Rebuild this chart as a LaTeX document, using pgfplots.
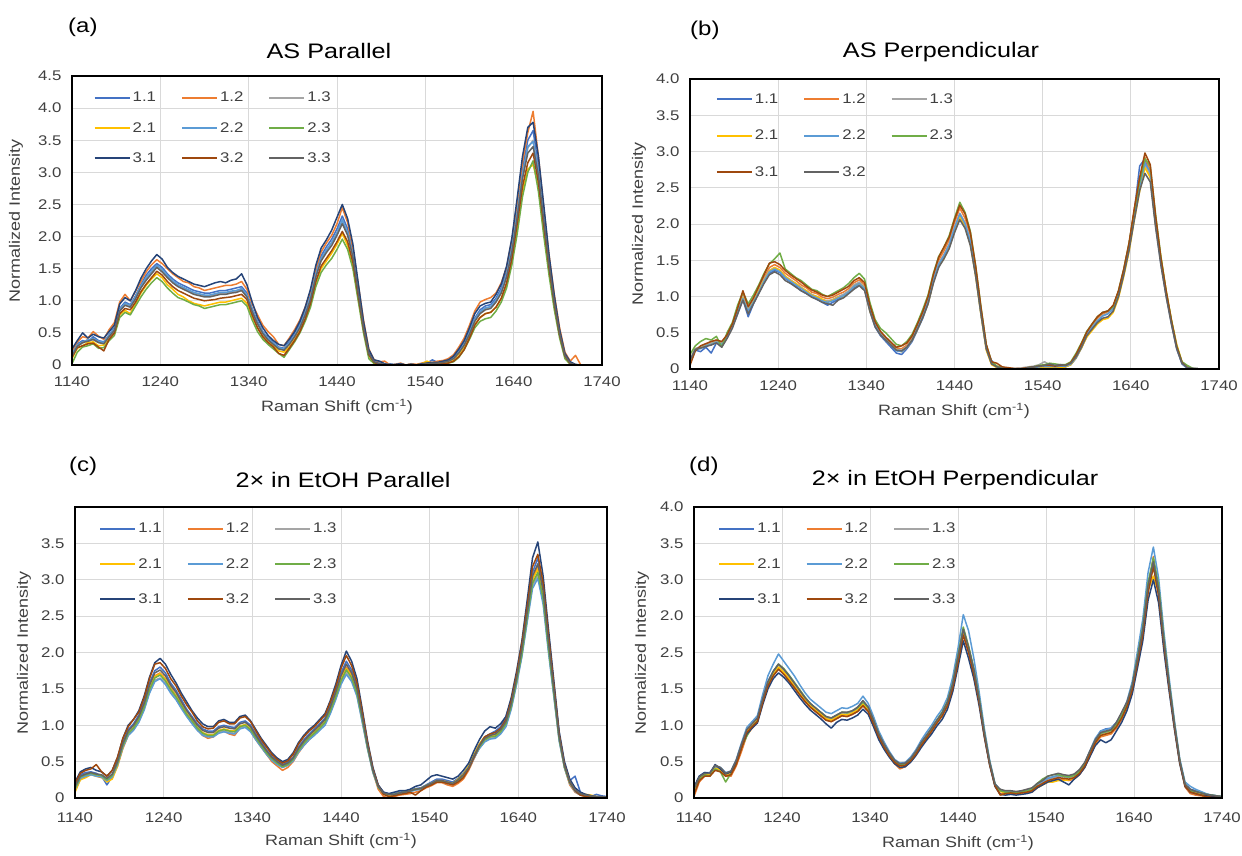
\documentclass[border=0pt]{standalone}
\usepackage{fontspec}
\setmainfont{Liberation Sans}[FakeStretch=1.2]
\usepackage{pgfplots}
\usepackage{pgfplotstable}
\pgfplotsset{compat=1.18}

\definecolor{c11}{HTML}{4472C4}
\definecolor{c12}{HTML}{ED7D31}
\definecolor{c13}{HTML}{A5A5A5}
\definecolor{c21}{HTML}{FFC000}
\definecolor{c22}{HTML}{5B9BD5}
\definecolor{c23}{HTML}{70AD47}
\definecolor{c31}{HTML}{264478}
\definecolor{c32}{HTML}{9E480E}
\definecolor{c33}{HTML}{636363}
\definecolor{gridc}{HTML}{D9D9D9}
\definecolor{labc}{HTML}{404040}

\newcommand{\tl}[1]{\textnormal{#1}}

% AS Parallel
\pgfplotstableread{
x a b c d e f g h i
1140 0.18 0.22 0.15 0.10 0.16 0.02 0.25 0.12 0.14
1146 0.33 0.36 0.30 0.26 0.31 0.20 0.38 0.27 0.29
1152 0.38 0.44 0.34 0.30 0.36 0.28 0.50 0.30 0.35
1158 0.36 0.42 0.40 0.35 0.39 0.30 0.42 0.33 0.37
1164 0.44 0.52 0.39 0.36 0.41 0.33 0.48 0.34 0.40
1170 0.38 0.45 0.35 0.30 0.37 0.26 0.44 0.28 0.35
1176 0.36 0.40 0.34 0.31 0.35 0.27 0.42 0.22 0.33
1182 0.47 0.55 0.45 0.40 0.46 0.38 0.52 0.40 0.44
1188 0.58 0.66 0.55 0.50 0.56 0.46 0.62 0.50 0.54
1194 0.88 0.98 0.86 0.78 0.86 0.74 0.95 0.80 0.84
1200 0.98 1.10 0.95 0.85 0.96 0.82 1.05 0.88 0.93
1206 0.94 1.00 0.92 0.80 0.93 0.78 1.00 0.86 0.90
1212 1.08 1.15 1.05 0.96 1.06 0.92 1.16 0.98 1.03
1218 1.25 1.30 1.22 1.12 1.23 1.06 1.35 1.14 1.20
1224 1.40 1.45 1.35 1.24 1.36 1.18 1.50 1.26 1.32
1230 1.50 1.56 1.44 1.34 1.46 1.28 1.62 1.36 1.42
1236 1.58 1.64 1.53 1.42 1.55 1.36 1.72 1.46 1.52
1242 1.52 1.58 1.47 1.36 1.49 1.30 1.65 1.40 1.45
1248 1.42 1.50 1.38 1.25 1.39 1.20 1.52 1.30 1.36
1254 1.34 1.42 1.30 1.18 1.31 1.12 1.44 1.22 1.28
1260 1.28 1.36 1.24 1.10 1.25 1.05 1.38 1.16 1.22
1266 1.24 1.30 1.20 1.06 1.21 1.02 1.34 1.12 1.18
1272 1.20 1.28 1.16 1.00 1.17 0.98 1.30 1.08 1.14
1278 1.16 1.22 1.12 0.96 1.13 0.94 1.26 1.04 1.10
1284 1.14 1.20 1.10 0.94 1.11 0.92 1.24 1.02 1.08
1290 1.12 1.16 1.08 0.92 1.09 0.88 1.22 1.00 1.06
1296 1.12 1.18 1.07 0.94 1.09 0.90 1.25 1.01 1.06
1302 1.14 1.20 1.10 0.96 1.11 0.92 1.28 1.02 1.08
1308 1.16 1.22 1.12 0.98 1.13 0.94 1.30 1.04 1.10
1314 1.16 1.24 1.12 0.98 1.13 0.94 1.28 1.05 1.10
1320 1.18 1.24 1.14 1.00 1.15 0.96 1.32 1.06 1.12
1326 1.20 1.26 1.15 1.02 1.16 0.98 1.34 1.08 1.13
1332 1.22 1.30 1.18 1.04 1.19 1.00 1.42 1.10 1.16
1338 1.12 1.18 1.08 0.96 1.09 0.92 1.25 1.02 1.06
1344 0.88 0.95 0.85 0.75 0.86 0.70 0.98 0.78 0.83
1350 0.68 0.78 0.65 0.58 0.66 0.52 0.74 0.58 0.64
1356 0.52 0.62 0.50 0.45 0.51 0.40 0.58 0.44 0.49
1362 0.42 0.52 0.40 0.36 0.41 0.32 0.46 0.35 0.39
1368 0.35 0.44 0.33 0.30 0.34 0.25 0.38 0.28 0.32
1374 0.28 0.32 0.26 0.22 0.27 0.18 0.32 0.18 0.25
1380 0.26 0.30 0.24 0.20 0.25 0.12 0.30 0.15 0.23
1386 0.36 0.42 0.33 0.28 0.34 0.24 0.40 0.26 0.32
1392 0.48 0.55 0.45 0.40 0.46 0.36 0.52 0.38 0.44
1398 0.64 0.70 0.60 0.54 0.61 0.50 0.68 0.52 0.58
1404 0.84 0.90 0.80 0.72 0.81 0.68 0.90 0.72 0.78
1410 1.08 1.15 1.05 0.95 1.06 0.90 1.18 0.96 1.02
1416 1.44 1.50 1.40 1.28 1.41 1.22 1.55 1.30 1.37
1422 1.70 1.76 1.65 1.50 1.66 1.44 1.82 1.54 1.62
1428 1.84 1.90 1.78 1.62 1.79 1.56 1.95 1.66 1.75
1434 1.96 2.02 1.90 1.74 1.91 1.66 2.10 1.78 1.86
1440 2.12 2.20 2.06 1.88 2.06 1.80 2.30 1.92 2.02
1446 2.32 2.45 2.25 2.05 2.26 1.96 2.50 2.08 2.20
1452 2.12 2.22 2.05 1.86 2.06 1.80 2.28 1.92 2.02
1458 1.76 1.82 1.70 1.55 1.71 1.50 1.88 1.60 1.68
1464 1.20 1.26 1.15 1.04 1.16 1.00 1.28 1.08 1.13
1470 0.64 0.70 0.60 0.54 0.61 0.50 0.68 0.56 0.58
1476 0.20 0.25 0.18 0.15 0.19 0.10 0.24 0.16 0.18
1482 0.06 0.08 0.05 0.03 0.05 0.02 0.08 0.04 0.05
1488 0.03 0.05 0.02 0.01 0.02 0.00 0.06 0.01 0.02
1494 0.00 0.06 0.01 0.00 0.01 0.00 0.02 0.00 0.01
1500 0.02 0.00 0.00 0.00 0.01 0.00 0.00 0.00 0.01
1506 0.00 0.01 0.00 0.00 0.00 0.00 0.01 0.00 0.00
1512 0.01 0.03 0.01 0.00 0.01 0.00 0.02 0.00 0.01
1518 0.00 0.00 0.00 0.00 0.00 0.00 0.00 0.00 0.00
1524 0.01 0.02 0.01 0.00 0.01 0.00 0.01 0.00 0.01
1530 0.00 0.01 0.00 0.00 0.00 0.00 0.00 0.00 0.00
1536 0.02 0.03 0.01 0.02 0.01 0.00 0.02 0.00 0.01
1542 0.03 0.05 0.02 0.06 0.02 0.01 0.03 0.01 0.02
1548 0.08 0.04 0.03 0.02 0.03 0.01 0.04 0.02 0.03
1554 0.04 0.06 0.03 0.02 0.03 0.02 0.04 0.01 0.03
1560 0.05 0.07 0.04 0.03 0.04 0.02 0.06 0.02 0.04
1566 0.07 0.10 0.06 0.05 0.06 0.03 0.08 0.03 0.06
1572 0.12 0.16 0.10 0.08 0.10 0.05 0.14 0.06 0.10
1578 0.22 0.28 0.20 0.17 0.20 0.12 0.25 0.13 0.19
1584 0.34 0.42 0.32 0.28 0.33 0.24 0.38 0.24 0.31
1590 0.53 0.62 0.50 0.45 0.51 0.40 0.58 0.42 0.48
1596 0.73 0.84 0.70 0.63 0.71 0.58 0.80 0.62 0.68
1602 0.86 0.98 0.82 0.74 0.83 0.68 0.92 0.74 0.80
1608 0.92 1.02 0.88 0.80 0.89 0.72 0.96 0.80 0.86
1614 0.94 1.05 0.90 0.82 0.91 0.74 0.98 0.82 0.88
1620 1.04 1.12 1.00 0.90 1.01 0.84 1.10 0.90 0.98
1626 1.20 1.28 1.15 1.04 1.16 0.98 1.26 1.04 1.12
1632 1.46 1.52 1.40 1.26 1.41 1.20 1.54 1.28 1.37
1638 1.86 1.95 1.80 1.62 1.81 1.56 1.98 1.66 1.76
1644 2.42 2.52 2.35 2.14 2.36 2.04 2.60 2.20 2.30
1650 3.05 3.15 2.95 2.70 2.96 2.62 3.25 2.78 2.90
1656 3.50 3.62 3.38 3.05 3.40 3.00 3.70 3.15 3.30
1662 3.65 3.95 3.50 3.12 3.48 3.18 3.78 3.30 3.40
1668 3.10 3.25 3.00 2.80 3.02 2.70 3.25 2.85 2.95
1674 2.36 2.45 2.30 2.12 2.31 2.02 2.50 2.18 2.26
1680 1.64 1.72 1.60 1.48 1.61 1.40 1.72 1.52 1.57
1686 1.03 1.10 1.00 0.92 1.01 0.86 1.08 0.95 0.98
1692 0.52 0.58 0.50 0.46 0.51 0.42 0.55 0.47 0.49
1698 0.16 0.20 0.15 0.13 0.15 0.10 0.18 0.14 0.15
1704 0.04 0.06 0.03 0.02 0.03 0.01 0.05 0.02 0.03
1710 0.00 0.15 0.00 0.00 0.00 0.00 0.01 0.00 0.00
1716 0.00 0.00 0.00 0.00 0.00 0.00 0.00 0.00 0.00
}\tabA

% AS Perpendicular
\pgfplotstableread{
x a b c d e f g h
1140 0.10 0.12 0.13 0.11 0.12 0.20 0.05 0.12
1146 0.26 0.28 0.28 0.27 0.27 0.32 0.25 0.27
1152 0.24 0.30 0.31 0.29 0.28 0.38 0.32 0.29
1158 0.30 0.34 0.33 0.32 0.32 0.42 0.35 0.31
1164 0.22 0.36 0.36 0.34 0.34 0.40 0.38 0.33
1170 0.36 0.40 0.38 0.37 0.37 0.45 0.40 0.36
1176 0.33 0.36 0.35 0.33 0.34 0.30 0.38 0.30
1182 0.43 0.46 0.45 0.44 0.44 0.50 0.47 0.42
1188 0.58 0.62 0.60 0.59 0.58 0.64 0.62 0.56
1194 0.76 0.82 0.80 0.78 0.78 0.88 0.84 0.76
1200 0.96 1.04 1.00 0.98 0.97 1.06 1.08 0.95
1206 0.72 0.84 0.82 0.80 0.80 0.90 0.86 0.76
1212 0.90 0.96 0.95 0.93 0.92 1.02 0.98 0.90
1218 1.05 1.12 1.10 1.08 1.06 1.16 1.14 1.04
1224 1.20 1.26 1.24 1.22 1.21 1.32 1.30 1.18
1230 1.32 1.40 1.36 1.35 1.34 1.45 1.46 1.30
1236 1.36 1.44 1.40 1.40 1.38 1.52 1.48 1.34
1242 1.33 1.40 1.36 1.36 1.34 1.60 1.44 1.30
1248 1.25 1.32 1.28 1.28 1.26 1.38 1.36 1.22
1254 1.20 1.27 1.23 1.22 1.21 1.32 1.30 1.18
1260 1.14 1.22 1.18 1.18 1.16 1.26 1.25 1.13
1266 1.08 1.16 1.13 1.12 1.11 1.22 1.20 1.08
1272 1.04 1.12 1.08 1.08 1.06 1.16 1.14 1.04
1278 1.00 1.06 1.03 1.02 1.01 1.10 1.09 0.99
1284 0.96 1.04 1.00 1.00 0.98 1.08 1.06 0.96
1290 0.92 0.99 0.96 0.96 0.94 1.03 1.02 0.92
1296 0.88 0.97 0.94 0.92 0.92 1.00 1.00 0.90
1302 0.92 0.99 0.96 0.95 0.94 1.04 1.02 0.88
1308 0.96 1.03 1.00 0.99 0.98 1.08 1.06 0.95
1314 1.00 1.06 1.03 1.00 1.01 1.12 1.10 0.98
1320 1.05 1.11 1.08 1.06 1.06 1.18 1.14 1.04
1326 1.12 1.19 1.16 1.14 1.14 1.26 1.22 1.10
1332 1.16 1.23 1.20 1.18 1.18 1.32 1.26 1.15
1338 1.10 1.16 1.13 1.12 1.11 1.24 1.19 1.08
1344 0.80 0.86 0.84 0.80 0.82 0.92 0.88 0.80
1350 0.58 0.63 0.61 0.60 0.60 0.68 0.65 0.58
1356 0.46 0.51 0.49 0.48 0.48 0.56 0.52 0.47
1362 0.38 0.43 0.41 0.40 0.40 0.50 0.44 0.40
1368 0.30 0.36 0.34 0.33 0.33 0.42 0.37 0.33
1374 0.22 0.29 0.27 0.26 0.25 0.34 0.30 0.26
1380 0.20 0.28 0.26 0.24 0.24 0.32 0.32 0.25
1386 0.28 0.33 0.31 0.30 0.30 0.38 0.36 0.30
1392 0.38 0.43 0.41 0.40 0.40 0.48 0.46 0.40
1398 0.54 0.59 0.57 0.55 0.56 0.64 0.62 0.55
1404 0.70 0.76 0.74 0.72 0.73 0.82 0.79 0.71
1410 0.90 0.97 0.94 0.90 0.92 1.02 1.00 0.90
1416 1.20 1.28 1.24 1.20 1.22 1.32 1.30 1.18
1422 1.42 1.50 1.46 1.42 1.44 1.55 1.54 1.40
1428 1.55 1.63 1.58 1.52 1.56 1.68 1.68 1.52
1434 1.70 1.78 1.73 1.68 1.71 1.84 1.82 1.66
1440 1.92 2.02 1.96 1.90 1.94 2.08 2.06 1.88
1446 2.12 2.22 2.15 2.10 2.14 2.30 2.26 2.06
1452 1.98 2.08 2.02 1.96 2.00 2.16 2.14 1.94
1458 1.74 1.84 1.78 1.72 1.76 1.90 1.88 1.70
1464 1.30 1.38 1.34 1.28 1.32 1.42 1.42 1.28
1470 0.76 0.82 0.79 0.75 0.78 0.86 0.85 0.76
1476 0.28 0.32 0.30 0.26 0.29 0.34 0.34 0.28
1482 0.12 0.10 0.08 0.06 0.08 0.10 0.10 0.07
1488 0.02 0.04 0.03 0.02 0.03 0.04 0.08 0.03
1494 0.00 0.02 0.01 0.00 0.01 0.02 0.03 0.01
1500 0.00 0.01 0.00 0.00 0.00 0.01 0.02 0.00
1506 0.00 0.00 0.01 0.00 0.00 0.00 0.01 0.00
1512 0.00 0.01 0.00 0.00 0.00 0.00 0.00 0.01
1518 0.00 0.00 0.02 0.00 0.00 0.00 0.01 0.00
1524 0.01 0.01 0.03 0.00 0.01 0.02 0.02 0.02
1530 0.02 0.02 0.04 0.01 0.02 0.03 0.03 0.03
1536 0.02 0.03 0.06 0.02 0.03 0.05 0.04 0.04
1542 0.03 0.04 0.10 0.03 0.04 0.06 0.05 0.05
1548 0.03 0.04 0.06 0.03 0.04 0.08 0.05 0.07
1554 0.02 0.04 0.05 0.02 0.03 0.07 0.04 0.05
1560 0.03 0.05 0.05 0.02 0.04 0.06 0.05 0.06
1566 0.03 0.05 0.06 0.03 0.04 0.06 0.05 0.05
1572 0.06 0.08 0.08 0.06 0.07 0.10 0.09 0.08
1578 0.15 0.18 0.18 0.16 0.17 0.22 0.20 0.17
1584 0.29 0.33 0.32 0.29 0.31 0.36 0.35 0.30
1590 0.45 0.49 0.48 0.44 0.47 0.52 0.51 0.46
1596 0.56 0.60 0.58 0.53 0.57 0.62 0.62 0.55
1602 0.70 0.70 0.67 0.62 0.66 0.72 0.72 0.64
1608 0.78 0.76 0.74 0.68 0.73 0.78 0.78 0.70
1614 0.80 0.79 0.77 0.70 0.76 0.80 0.80 0.72
1620 0.86 0.86 0.84 0.78 0.83 0.86 0.88 0.80
1626 1.06 1.06 1.04 0.98 1.03 1.08 1.08 1.00
1632 1.36 1.36 1.34 1.28 1.33 1.38 1.38 1.30
1638 1.72 1.72 1.69 1.62 1.68 1.74 1.74 1.64
1644 2.18 2.20 2.14 2.06 2.12 2.18 2.22 2.06
1650 2.80 2.62 2.54 2.45 2.52 2.58 2.64 2.46
1656 2.90 2.92 2.82 2.78 2.84 2.90 2.98 2.70
1662 2.66 2.74 2.68 2.64 2.72 2.80 2.82 2.58
1668 2.00 2.08 2.04 2.00 2.06 2.14 2.12 1.96
1674 1.46 1.52 1.49 1.55 1.50 1.56 1.54 1.44
1680 1.02 1.06 1.04 1.08 1.05 1.08 1.08 1.00
1686 0.63 0.66 0.64 0.68 0.65 0.68 0.67 0.62
1692 0.28 0.31 0.30 0.34 0.30 0.32 0.31 0.28
1698 0.07 0.09 0.08 0.10 0.08 0.10 0.09 0.08
1704 0.01 0.02 0.03 0.02 0.01 0.05 0.02 0.02
1710 0.00 0.00 0.01 0.00 0.00 0.01 0.00 0.01
1716 0.00 0.00 0.00 0.00 0.00 0.00 0.00 0.01
}\tabB

% 2x in EtOH Parallel
\pgfplotstableread{
x a b c d e f g h i
1140 0.18 0.10 0.14 0.08 0.12 0.13 0.22 0.20 0.16
1146 0.32 0.26 0.28 0.25 0.27 0.29 0.36 0.34 0.30
1152 0.35 0.30 0.31 0.28 0.30 0.32 0.40 0.38 0.33
1158 0.36 0.33 0.33 0.32 0.32 0.34 0.42 0.40 0.35
1164 0.34 0.30 0.31 0.30 0.30 0.32 0.38 0.46 0.33
1170 0.30 0.28 0.30 0.29 0.29 0.31 0.36 0.36 0.32
1176 0.18 0.24 0.25 0.22 0.24 0.25 0.30 0.30 0.27
1182 0.30 0.28 0.30 0.26 0.29 0.31 0.38 0.38 0.33
1188 0.52 0.44 0.47 0.44 0.46 0.48 0.56 0.56 0.50
1194 0.76 0.68 0.71 0.70 0.70 0.72 0.82 0.82 0.75
1200 0.94 0.86 0.87 0.88 0.86 0.89 1.00 0.98 0.92
1206 1.02 0.96 0.94 0.97 0.93 0.96 1.08 1.08 1.00
1212 1.14 1.08 1.05 1.09 1.04 1.08 1.20 1.18 1.12
1218 1.33 1.26 1.22 1.26 1.21 1.25 1.40 1.38 1.30
1224 1.58 1.50 1.46 1.50 1.44 1.49 1.66 1.64 1.55
1230 1.75 1.68 1.62 1.67 1.60 1.65 1.86 1.84 1.72
1236 1.80 1.72 1.65 1.71 1.64 1.69 1.92 1.86 1.76
1242 1.72 1.64 1.58 1.63 1.56 1.61 1.84 1.78 1.68
1248 1.58 1.52 1.46 1.50 1.44 1.49 1.70 1.64 1.55
1254 1.48 1.40 1.36 1.41 1.35 1.39 1.58 1.54 1.45
1260 1.35 1.28 1.24 1.28 1.23 1.27 1.44 1.40 1.32
1266 1.22 1.16 1.13 1.16 1.12 1.15 1.32 1.28 1.20
1272 1.12 1.04 1.03 1.07 1.02 1.06 1.20 1.18 1.10
1278 1.02 0.94 0.94 0.97 0.93 0.96 1.10 1.06 1.00
1284 0.95 0.86 0.87 0.90 0.86 0.89 1.02 0.98 0.93
1290 0.92 0.82 0.85 0.87 0.84 0.86 0.98 0.95 0.90
1296 0.92 0.84 0.85 0.87 0.84 0.86 0.98 0.96 0.90
1302 0.98 0.90 0.90 0.93 0.89 0.92 1.06 1.04 0.96
1308 1.00 0.92 0.92 0.95 0.91 0.94 1.08 1.06 0.98
1314 0.98 0.88 0.90 0.93 0.89 0.92 1.04 1.02 0.96
1320 0.97 0.86 0.89 0.92 0.88 0.91 1.04 1.02 0.95
1326 1.04 0.96 0.96 0.99 0.95 0.98 1.12 1.10 1.02
1332 1.06 0.98 0.98 1.01 0.97 1.00 1.14 1.12 1.04
1338 1.00 0.92 0.92 0.95 0.91 0.94 1.06 1.05 0.98
1344 0.88 0.80 0.81 0.83 0.80 0.83 0.94 0.92 0.86
1350 0.77 0.70 0.70 0.73 0.70 0.72 0.82 0.80 0.75
1356 0.66 0.60 0.61 0.63 0.60 0.62 0.72 0.70 0.65
1362 0.57 0.50 0.53 0.54 0.52 0.54 0.62 0.60 0.56
1368 0.51 0.44 0.47 0.48 0.46 0.48 0.55 0.53 0.50
1374 0.46 0.38 0.42 0.44 0.42 0.43 0.50 0.48 0.45
1380 0.49 0.42 0.45 0.47 0.45 0.46 0.53 0.51 0.48
1386 0.56 0.50 0.52 0.53 0.51 0.53 0.62 0.60 0.55
1392 0.70 0.62 0.64 0.66 0.63 0.65 0.76 0.74 0.68
1398 0.80 0.72 0.73 0.76 0.72 0.75 0.86 0.84 0.78
1404 0.88 0.80 0.81 0.84 0.80 0.83 0.94 0.92 0.86
1410 0.95 0.88 0.87 0.91 0.86 0.89 1.00 0.98 0.93
1416 1.02 0.96 0.94 0.98 0.93 0.96 1.08 1.06 1.00
1422 1.10 1.04 1.02 1.06 1.00 1.04 1.16 1.14 1.08
1428 1.28 1.22 1.18 1.22 1.16 1.20 1.34 1.32 1.25
1434 1.48 1.42 1.36 1.41 1.35 1.39 1.56 1.52 1.45
1440 1.72 1.65 1.58 1.63 1.56 1.61 1.82 1.78 1.68
1446 1.88 1.80 1.72 1.78 1.70 1.76 2.02 1.96 1.84
1452 1.76 1.69 1.62 1.67 1.60 1.65 1.88 1.82 1.72
1458 1.53 1.47 1.41 1.46 1.40 1.44 1.64 1.58 1.50
1464 1.14 1.10 1.05 1.09 1.04 1.08 1.22 1.18 1.12
1470 0.74 0.70 0.68 0.70 0.67 0.69 0.78 0.76 0.72
1476 0.40 0.36 0.36 0.37 0.35 0.37 0.42 0.40 0.38
1482 0.17 0.12 0.15 0.15 0.15 0.15 0.18 0.17 0.16
1488 0.08 0.02 0.06 0.06 0.06 0.06 0.08 0.05 0.07
1494 0.06 0.00 0.04 0.04 0.05 0.05 0.06 0.02 0.05
1500 0.06 0.02 0.04 0.05 0.05 0.05 0.08 0.03 0.05
1506 0.08 0.04 0.06 0.07 0.06 0.07 0.10 0.05 0.07
1512 0.09 0.05 0.07 0.08 0.07 0.08 0.10 0.06 0.08
1518 0.11 0.06 0.09 0.10 0.09 0.10 0.12 0.08 0.10
1524 0.13 0.08 0.11 0.12 0.11 0.12 0.16 0.04 0.12
1530 0.14 0.10 0.12 0.13 0.12 0.13 0.18 0.10 0.13
1536 0.18 0.14 0.16 0.17 0.16 0.17 0.24 0.15 0.17
1542 0.22 0.17 0.19 0.20 0.19 0.20 0.30 0.18 0.20
1548 0.26 0.21 0.23 0.24 0.22 0.23 0.32 0.22 0.24
1554 0.26 0.21 0.23 0.24 0.22 0.23 0.30 0.22 0.24
1560 0.24 0.18 0.21 0.22 0.20 0.21 0.28 0.20 0.22
1566 0.22 0.16 0.19 0.20 0.19 0.20 0.26 0.18 0.20
1572 0.27 0.20 0.24 0.26 0.23 0.24 0.30 0.22 0.25
1578 0.34 0.26 0.30 0.33 0.30 0.31 0.38 0.28 0.32
1584 0.44 0.38 0.40 0.44 0.40 0.41 0.48 0.40 0.42
1590 0.60 0.54 0.55 0.60 0.55 0.57 0.65 0.56 0.58
1596 0.74 0.70 0.68 0.74 0.68 0.70 0.80 0.72 0.72
1602 0.84 0.80 0.78 0.84 0.77 0.80 0.92 0.84 0.82
1608 0.88 0.84 0.82 0.86 0.81 0.84 0.98 0.88 0.86
1614 0.92 0.86 0.83 0.86 0.82 0.85 0.96 0.90 0.88
1620 0.98 0.92 0.89 0.92 0.88 0.91 1.02 0.96 0.94
1626 1.12 1.03 0.99 1.03 0.98 1.02 1.12 1.08 1.05
1632 1.34 1.28 1.24 1.28 1.22 1.26 1.38 1.34 1.30
1638 1.68 1.62 1.58 1.62 1.56 1.60 1.74 1.70 1.65
1644 2.08 2.02 1.96 2.00 1.94 1.98 2.16 2.12 2.05
1650 2.60 2.52 2.44 2.50 2.42 2.48 2.72 2.64 2.55
1656 3.10 3.00 2.92 3.00 2.88 2.95 3.30 3.18 3.05
1662 3.30 3.18 3.06 3.15 3.02 3.10 3.52 3.35 3.22
1668 2.90 2.80 2.70 2.76 2.66 2.74 3.05 2.95 2.85
1674 2.20 2.10 2.04 2.08 2.00 2.06 2.32 2.24 2.15
1680 1.54 1.46 1.42 1.46 1.40 1.44 1.62 1.56 1.50
1686 0.88 0.82 0.80 0.83 0.79 0.82 0.92 0.88 0.85
1692 0.48 0.42 0.42 0.44 0.42 0.43 0.50 0.46 0.45
1698 0.24 0.18 0.20 0.22 0.20 0.21 0.26 0.22 0.23
1704 0.30 0.08 0.09 0.10 0.09 0.10 0.14 0.10 0.11
1710 0.08 0.04 0.04 0.06 0.04 0.05 0.08 0.04 0.06
1716 0.04 0.02 0.03 0.05 0.03 0.03 0.05 0.02 0.04
1722 0.02 0.01 0.02 0.04 0.02 0.02 0.03 0.01 0.03
1728 0.05 0.01 0.02 0.02 0.02 0.01 0.02 0.01 0.02
1734 0.03 0.00 0.01 0.01 0.01 0.01 0.02 0.00 0.02
1740 0.02 0.00 0.01 0.01 0.01 0.00 0.01 0.00 0.01
}\tabC

% 2x in EtOH Perpendicular
\pgfplotstableread{
x a b c d e f g h i
1140 0.10 0.02 0.12 0.10 0.14 0.12 0.15 0.05 0.13
1146 0.28 0.22 0.28 0.27 0.30 0.26 0.30 0.24 0.29
1152 0.33 0.30 0.33 0.32 0.35 0.32 0.35 0.30 0.34
1158 0.33 0.30 0.34 0.32 0.35 0.30 0.34 0.30 0.34
1164 0.42 0.40 0.44 0.41 0.44 0.40 0.46 0.38 0.45
1170 0.40 0.38 0.41 0.39 0.42 0.36 0.40 0.36 0.42
1176 0.33 0.30 0.34 0.32 0.35 0.22 0.33 0.30 0.34
1182 0.35 0.30 0.36 0.34 0.37 0.34 0.36 0.32 0.37
1188 0.50 0.44 0.51 0.49 0.53 0.48 0.50 0.46 0.52
1194 0.72 0.64 0.73 0.71 0.76 0.70 0.70 0.68 0.74
1200 0.93 0.86 0.93 0.91 0.97 0.85 0.88 0.90 0.94
1206 1.01 0.96 1.01 0.99 1.05 0.98 0.96 0.98 1.02
1212 1.09 1.04 1.09 1.07 1.13 1.06 1.03 1.05 1.10
1218 1.36 1.30 1.36 1.33 1.42 1.34 1.28 1.31 1.36
1224 1.60 1.54 1.59 1.56 1.68 1.58 1.50 1.54 1.60
1230 1.74 1.68 1.73 1.70 1.84 1.74 1.64 1.68 1.74
1236 1.84 1.78 1.83 1.80 1.98 1.84 1.72 1.77 1.84
1242 1.77 1.71 1.76 1.73 1.88 1.78 1.66 1.70 1.77
1248 1.68 1.62 1.67 1.64 1.78 1.69 1.58 1.61 1.68
1254 1.58 1.52 1.57 1.54 1.68 1.59 1.48 1.52 1.58
1260 1.48 1.43 1.47 1.44 1.56 1.49 1.38 1.42 1.48
1266 1.38 1.33 1.37 1.35 1.45 1.39 1.29 1.33 1.38
1272 1.30 1.25 1.29 1.27 1.36 1.30 1.21 1.25 1.30
1278 1.23 1.19 1.23 1.21 1.30 1.24 1.15 1.19 1.24
1284 1.17 1.13 1.17 1.15 1.24 1.18 1.09 1.13 1.18
1290 1.11 1.07 1.11 1.09 1.18 1.12 1.02 1.07 1.12
1296 1.09 1.05 1.09 1.07 1.16 1.10 0.96 1.05 1.10
1302 1.13 1.09 1.13 1.11 1.20 1.14 1.04 1.09 1.14
1308 1.17 1.13 1.17 1.15 1.24 1.18 1.08 1.13 1.18
1314 1.16 1.12 1.16 1.14 1.23 1.17 1.07 1.12 1.18
1320 1.19 1.15 1.19 1.17 1.26 1.20 1.10 1.15 1.20
1326 1.23 1.19 1.23 1.21 1.30 1.24 1.14 1.19 1.25
1332 1.32 1.27 1.31 1.29 1.40 1.32 1.22 1.27 1.34
1338 1.23 1.19 1.23 1.21 1.30 1.24 1.15 1.19 1.25
1344 1.06 1.02 1.06 1.04 1.12 1.07 0.98 1.02 1.07
1350 0.87 0.84 0.87 0.85 0.92 0.88 0.80 0.84 0.88
1356 0.73 0.70 0.73 0.71 0.77 0.73 0.67 0.70 0.74
1362 0.61 0.58 0.61 0.59 0.64 0.61 0.56 0.58 0.62
1368 0.51 0.47 0.51 0.49 0.53 0.51 0.47 0.49 0.52
1374 0.46 0.40 0.46 0.42 0.48 0.46 0.42 0.44 0.47
1380 0.47 0.43 0.47 0.44 0.49 0.47 0.43 0.45 0.48
1386 0.53 0.50 0.53 0.50 0.56 0.53 0.49 0.51 0.54
1392 0.63 0.60 0.63 0.60 0.66 0.63 0.58 0.60 0.64
1398 0.75 0.72 0.75 0.73 0.79 0.75 0.69 0.72 0.76
1404 0.85 0.82 0.85 0.83 0.90 0.85 0.79 0.82 0.86
1410 0.95 0.92 0.95 0.93 1.00 0.96 0.88 0.92 0.96
1416 1.06 1.03 1.06 1.04 1.12 1.07 0.99 1.03 1.07
1422 1.16 1.13 1.16 1.14 1.22 1.18 1.08 1.13 1.17
1428 1.31 1.28 1.31 1.29 1.38 1.33 1.22 1.27 1.32
1434 1.56 1.52 1.56 1.54 1.66 1.58 1.46 1.51 1.57
1440 1.94 1.88 1.93 1.90 2.06 1.96 1.80 1.86 1.94
1446 2.32 2.26 2.30 2.28 2.52 2.35 2.16 2.24 2.32
1452 2.06 2.01 2.05 2.08 2.30 2.09 1.92 2.00 2.07
1458 1.76 1.72 1.75 1.74 1.92 1.78 1.64 1.70 1.77
1464 1.36 1.32 1.35 1.34 1.46 1.38 1.27 1.31 1.36
1470 0.89 0.86 0.88 0.87 0.95 0.90 0.83 0.85 0.89
1476 0.49 0.47 0.48 0.47 0.52 0.49 0.45 0.46 0.49
1482 0.19 0.17 0.18 0.18 0.20 0.19 0.16 0.17 0.19
1488 0.11 0.06 0.10 0.09 0.11 0.10 0.05 0.04 0.12
1494 0.09 0.06 0.08 0.07 0.09 0.08 0.04 0.06 0.10
1500 0.09 0.07 0.08 0.07 0.09 0.08 0.05 0.07 0.10
1506 0.08 0.06 0.07 0.06 0.08 0.07 0.04 0.06 0.09
1512 0.09 0.07 0.08 0.07 0.09 0.08 0.05 0.07 0.10
1518 0.11 0.08 0.10 0.09 0.11 0.10 0.06 0.08 0.12
1524 0.13 0.08 0.12 0.11 0.13 0.12 0.08 0.10 0.14
1530 0.19 0.14 0.18 0.14 0.19 0.20 0.14 0.16 0.20
1536 0.23 0.18 0.22 0.18 0.23 0.26 0.18 0.20 0.24
1542 0.27 0.22 0.26 0.22 0.27 0.30 0.22 0.24 0.30
1548 0.29 0.24 0.28 0.22 0.29 0.32 0.24 0.26 0.32
1554 0.31 0.26 0.30 0.24 0.31 0.32 0.26 0.28 0.34
1560 0.30 0.25 0.29 0.24 0.30 0.30 0.22 0.27 0.32
1566 0.29 0.24 0.28 0.25 0.29 0.29 0.18 0.26 0.31
1572 0.31 0.26 0.30 0.28 0.31 0.31 0.26 0.28 0.33
1578 0.37 0.32 0.36 0.34 0.38 0.37 0.32 0.34 0.39
1584 0.47 0.42 0.46 0.44 0.48 0.47 0.42 0.44 0.49
1590 0.63 0.58 0.62 0.60 0.65 0.63 0.57 0.60 0.65
1596 0.80 0.74 0.78 0.76 0.82 0.79 0.72 0.76 0.80
1602 0.92 0.84 0.88 0.86 0.92 0.89 0.80 0.86 0.90
1608 0.95 0.86 0.90 0.88 0.94 0.91 0.76 0.88 0.92
1614 0.96 0.88 0.92 0.90 0.96 0.93 0.80 0.90 0.94
1620 1.04 0.96 1.00 1.02 1.04 1.01 0.92 0.98 1.04
1626 1.15 1.08 1.12 1.10 1.16 1.13 1.04 1.10 1.18
1632 1.30 1.24 1.28 1.26 1.33 1.30 1.20 1.26 1.32
1638 1.54 1.48 1.52 1.50 1.60 1.55 1.43 1.49 1.55
1644 1.92 1.86 1.90 1.88 2.02 1.94 1.79 1.86 1.92
1650 2.32 2.26 2.30 2.28 2.46 2.35 2.16 2.24 2.32
1656 2.92 2.84 2.90 2.86 3.10 2.96 2.72 2.82 2.92
1662 3.28 3.32 3.25 3.05 3.45 3.30 3.00 3.18 3.25
1668 2.86 2.80 2.86 2.82 3.02 2.92 2.68 2.78 2.86
1674 2.16 2.11 2.15 2.13 2.28 2.20 2.02 2.10 2.16
1680 1.56 1.52 1.55 1.54 1.64 1.58 1.46 1.51 1.56
1686 1.01 0.98 1.00 0.99 1.06 1.02 0.94 0.97 1.01
1692 0.51 0.49 0.50 0.50 0.54 0.51 0.47 0.49 0.51
1698 0.19 0.15 0.18 0.18 0.22 0.19 0.16 0.17 0.19
1704 0.12 0.06 0.10 0.10 0.16 0.10 0.08 0.08 0.12
1710 0.10 0.04 0.08 0.07 0.12 0.09 0.06 0.06 0.09
1716 0.07 0.03 0.06 0.05 0.09 0.07 0.04 0.04 0.07
1722 0.05 0.02 0.04 0.03 0.06 0.05 0.03 0.02 0.05
1728 0.04 0.01 0.03 0.02 0.04 0.04 0.02 0.01 0.04
1734 0.03 0.01 0.02 0.01 0.03 0.03 0.01 0.01 0.03
1740 0.02 0.00 0.01 0.01 0.02 0.02 0.01 0.00 0.02
}\tabD

\pgfplotsset{
  raman/.style={
    scale only axis,
    anchor=north west,
    xmin=1140, xmax=1740, ymin=0,
    xtick={1140,1240,1340,1440,1540,1640,1740},
    xticklabels={\tl{1140},\tl{1240},\tl{1340},\tl{1440},\tl{1540},\tl{1640},\tl{1740}},
    grid=major,
    grid style={draw=gridc, line width=0.9pt},
    axis line style={draw=none},
    major tick length=0pt,
    tick label style={font=\fontsize{14}{16}\selectfont, text=labc},
    yticklabel style={xshift=-7pt},
    xticklabel style={yshift=-8pt},
    clip mode=individual,
    every axis plot/.append style={line width=1.5pt, mark=none, line join=round},
    legend columns=3,
    legend cell align=left,
    legend image code/.code={\draw[##1, line width=2pt] (0pt,0pt) -- (35pt,0pt);},
    legend style={draw=none, fill=none, anchor=north west,
      inner sep=0pt, outer sep=0pt,
      font=\fontsize{14}{16}\selectfont, text=labc,
      /tikz/every even column/.append style={column sep=23pt}},
  },
}

\newcommand{\frameit}{\draw[line width=2.6pt, black] (rel axis cs:0,0) rectangle (rel axis cs:1,1);}

\begin{document}
\begin{tikzpicture}[x=1pt, y=1pt]
\path[use as bounding box] (0pt,0pt) rectangle (1242pt,-855pt);

% (a)
\begin{axis}[raman, at={(72pt,-76pt)}, width=530pt, height=289pt, ymax=4.5,
  ytick={0,0.5,1,1.5,2,2.5,3,3.5,4,4.5},
  yticklabels={\tl{0},\tl{0.5},\tl{1.0},\tl{1.5},\tl{2.0},\tl{2.5},\tl{3.0},\tl{3.5},\tl{4.0},\tl{4.5}},
  legend style={at={(0.041,0.951)}, row sep=15pt}]
\addplot[c11] table[x=x, y=a] {\tabA}; \addlegendentry{1.1}
\addplot[c12] table[x=x, y=b] {\tabA}; \addlegendentry{1.2}
\addplot[c13] table[x=x, y=c] {\tabA}; \addlegendentry{1.3}
\addplot[c21] table[x=x, y=d] {\tabA}; \addlegendentry{2.1}
\addplot[c22] table[x=x, y=e] {\tabA}; \addlegendentry{2.2}
\addplot[c23] table[x=x, y=f] {\tabA}; \addlegendentry{2.3}
\addplot[c31] table[x=x, y=g] {\tabA}; \addlegendentry{3.1}
\addplot[c32] table[x=x, y=h] {\tabA}; \addlegendentry{3.2}
\addplot[c33] table[x=x, y=i] {\tabA}; \addlegendentry{3.3}
\frameit
\end{axis}

% (b)
\begin{axis}[raman, at={(690pt,-79pt)}, width=529pt, height=290pt, ymax=4,
  ytick={0,0.5,1,1.5,2,2.5,3,3.5,4},
  yticklabels={\tl{0},\tl{0.5},\tl{1.0},\tl{1.5},\tl{2.0},\tl{2.5},\tl{3.0},\tl{3.5},\tl{4.0}},
  legend style={at={(0.049,0.956)}, row sep=21pt}]
\addplot[c11] table[x=x, y=a] {\tabB}; \addlegendentry{1.1}
\addplot[c12] table[x=x, y=b] {\tabB}; \addlegendentry{1.2}
\addplot[c13] table[x=x, y=c] {\tabB}; \addlegendentry{1.3}
\addplot[c21] table[x=x, y=d] {\tabB}; \addlegendentry{2.1}
\addplot[c22] table[x=x, y=e] {\tabB}; \addlegendentry{2.2}
\addplot[c23] table[x=x, y=f] {\tabB}; \addlegendentry{2.3}
\addplot[c32] table[x=x, y=g] {\tabB}; \addlegendentry{3.1}
\addplot[c33] table[x=x, y=h] {\tabB}; \addlegendentry{3.2}
\frameit
\end{axis}

% (c)
\begin{axis}[raman, at={(75pt,-507pt)}, width=532pt, height=291pt, ymax=4,
  ytick={0,0.5,1,1.5,2,2.5,3,3.5},
  yticklabels={\tl{0},\tl{0.5},\tl{1.0},\tl{1.5},\tl{2.0},\tl{2.5},\tl{3.0},\tl{3.5}},
  xticklabel style={yshift=-3pt},
  legend style={at={(0.046,0.952)}, row sep=20pt}]
\addplot[c11] table[x=x, y=a] {\tabC}; \addlegendentry{1.1}
\addplot[c12] table[x=x, y=b] {\tabC}; \addlegendentry{1.2}
\addplot[c13] table[x=x, y=c] {\tabC}; \addlegendentry{1.3}
\addplot[c21] table[x=x, y=d] {\tabC}; \addlegendentry{2.1}
\addplot[c22] table[x=x, y=e] {\tabC}; \addlegendentry{2.2}
\addplot[c23] table[x=x, y=f] {\tabC}; \addlegendentry{2.3}
\addplot[c31] table[x=x, y=g] {\tabC}; \addlegendentry{3.1}
\addplot[c32] table[x=x, y=h] {\tabC}; \addlegendentry{3.2}
\addplot[c33] table[x=x, y=i] {\tabC}; \addlegendentry{3.3}
\frameit
\end{axis}

% (d)
\begin{axis}[raman, at={(694pt,-507pt)}, width=528pt, height=291pt, ymax=4,
  ytick={0,0.5,1,1.5,2,2.5,3,3.5,4},
  yticklabels={\tl{0},\tl{0.5},\tl{1.0},\tl{1.5},\tl{2.5},\tl{2.0},\tl{3.0},\tl{3.5},\tl{4.0}},
  xticklabel style={yshift=-3pt},
  legend style={at={(0.046,0.952)}, row sep=20pt}]
\addplot[c11] table[x=x, y=a] {\tabD}; \addlegendentry{1.1}
\addplot[c12] table[x=x, y=b] {\tabD}; \addlegendentry{1.2}
\addplot[c13] table[x=x, y=c] {\tabD}; \addlegendentry{1.3}
\addplot[c21] table[x=x, y=d] {\tabD}; \addlegendentry{2.1}
\addplot[c22] table[x=x, y=e] {\tabD}; \addlegendentry{2.2}
\addplot[c23] table[x=x, y=f] {\tabD}; \addlegendentry{2.3}
\addplot[c31] table[x=x, y=g] {\tabD}; \addlegendentry{3.1}
\addplot[c32] table[x=x, y=h] {\tabD}; \addlegendentry{3.2}
\addplot[c33] table[x=x, y=i] {\tabD}; \addlegendentry{3.3}
\frameit
\end{axis}

% panel letters and titles
\begin{scope}[every node/.style={inner sep=0pt}]
\node[anchor=west, font=\fontsize{20}{22}\selectfont] at (68pt,-27pt) {(a)};
\node[anchor=west, font=\fontsize{20}{22}\selectfont] at (690pt,-30pt) {(b)};
\node[anchor=west, font=\fontsize{20}{22}\selectfont] at (69pt,-466pt) {(c)};
\node[anchor=west, font=\fontsize{20}{22}\selectfont] at (689pt,-466pt) {(d)};
\node[font=\fontsize{21}{24}\selectfont, text=black] at (329pt,-51pt) {AS Parallel};
\node[font=\fontsize{21}{24}\selectfont, text=black] at (941pt,-52pt) {AS Perpendicular};
\node[font=\fontsize{21}{24}\selectfont, text=black] at (343pt,-480pt) {2× in EtOH Parallel};
\node[font=\fontsize{21}{24}\selectfont, text=black] at (955pt,-480pt) {2× in EtOH Perpendicular};
% axis titles
\node[rotate=90, font=\fontsize{15}{17}\selectfont, text=labc] at (16pt,-220.5pt) {Normalized Intensity};
\node[rotate=90, font=\fontsize{15}{17}\selectfont, text=labc] at (639pt,-224pt) {Normalized Intensity};
\node[rotate=90, font=\fontsize{15}{17}\selectfont, text=labc] at (24pt,-652.5pt) {Normalized Intensity};
\node[rotate=90, font=\fontsize{15}{17}\selectfont, text=labc] at (642pt,-652.5pt) {Normalized Intensity};
\node[font=\fontsize{15}{17}\selectfont, text=labc] at (337pt,-407pt) {Raman Shift (cm\textsuperscript{-1})};
\node[font=\fontsize{15}{17}\selectfont, text=labc] at (954pt,-411pt) {Raman Shift (cm\textsuperscript{-1})};
\node[font=\fontsize{15}{17}\selectfont, text=labc] at (341pt,-841pt) {Raman Shift (cm\textsuperscript{-1})};
\node[font=\fontsize{15}{17}\selectfont, text=labc] at (958pt,-843pt) {Raman Shift (cm\textsuperscript{-1})};
\end{scope}
\end{tikzpicture}
\end{document}
